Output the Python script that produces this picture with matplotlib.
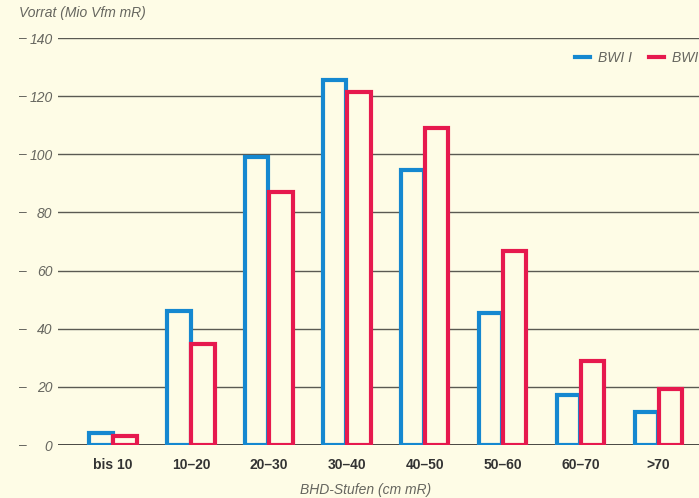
import matplotlib.pyplot as plt
import numpy as np

# --- data ---
categories = ["bis 10", "10–20", "20–30", "30–40", "40–50", "50–60", "60–70", ">70"]
bwi_1 = [4.1, 46.1, 99.0, 125.5, 94.6, 45.4, 17.2, 11.4]
bwi_2 = [3.1, 34.7, 87.0, 121.4, 109.0, 66.7, 28.9, 19.3]
series_names = ["BWI I", "BWI II"]
y_ticks = [0, 20, 40, 60, 80, 100, 120, 140]

BG = "#fefce6"
BLUE = "#1588d0"
RED = "#e6194e"
GRAY = "#66665f"

plt.rcParams["font.family"] = ["Liberation Sans", "DejaVu Sans"]

fig = plt.figure(figsize=(6.99, 4.98), dpi=100, facecolor=BG)
ax = fig.add_axes([58 / 699, 1 - 445 / 498, 1 - 58 / 699, (445 - 38) / 498])
ax.set_facecolor(BG)

x = np.arange(len(categories))
w = 0.30
ax.bar(x - w / 2 - 0.005, bwi_1, width=w, facecolor=BG, edgecolor=BLUE, linewidth=3.0, zorder=3)
ax.bar(x + w / 2 + 0.005, bwi_2, width=w, facecolor=BG, edgecolor=RED, linewidth=3.0, zorder=3)

ax.set_xlim(-0.706, 7.52)
ax.set_ylim(0, 140)

for s in ax.spines.values():
    s.set_visible(False)

# horizontal rules
for t in y_ticks:
    ax.axhline(t, color="#3a3a35" if t == 0 else "#5a5a52", linewidth=1.3 if t == 0 else 1.0, zorder=1)

ax.set_yticks(y_ticks)
ax.set_yticklabels([str(t) for t in y_ticks], fontstyle="italic", color=GRAY, fontsize=10)
ax.tick_params(axis="y", length=0, pad=4)
# small dashes in front of the y numbers
for t in y_ticks:
    ax.annotate("–", xy=(0, t), xycoords=ax.get_yaxis_transform(), xytext=(-28, 0),
                textcoords="offset points", color=GRAY, fontsize=10, va="center", ha="left")

ax.set_xticks(x)
ax.set_xticklabels(categories, fontweight="bold", color="#333333", fontsize=10)
ax.tick_params(axis="x", length=0, pad=9)

fig.text(19 / 699, 1 - 13 / 498, "Vorrat (Mio Vfm mR)", fontstyle="italic", color=GRAY,
         fontsize=10, va="center", ha="left")
fig.text(366 / 699, 1 - 490 / 498, "BHD-Stufen (cm mR)", fontstyle="italic", color=GRAY,
         fontsize=10, va="center", ha="center")

h1, = ax.plot([], [], color=BLUE, linewidth=3)
h2, = ax.plot([], [], color=RED, linewidth=3)
leg = fig.legend([h1, h2], series_names, loc="center left",
                 bbox_to_anchor=(562 / 699, 1 - 58 / 498), ncol=2, frameon=False,
                 handlelength=1.1, handletextpad=0.6, columnspacing=1.2,
                 prop={"style": "italic", "size": 10})
for txt in leg.get_texts():
    txt.set_color(GRAY)

fig.savefig("out.png", dpi=100, facecolor=BG)
